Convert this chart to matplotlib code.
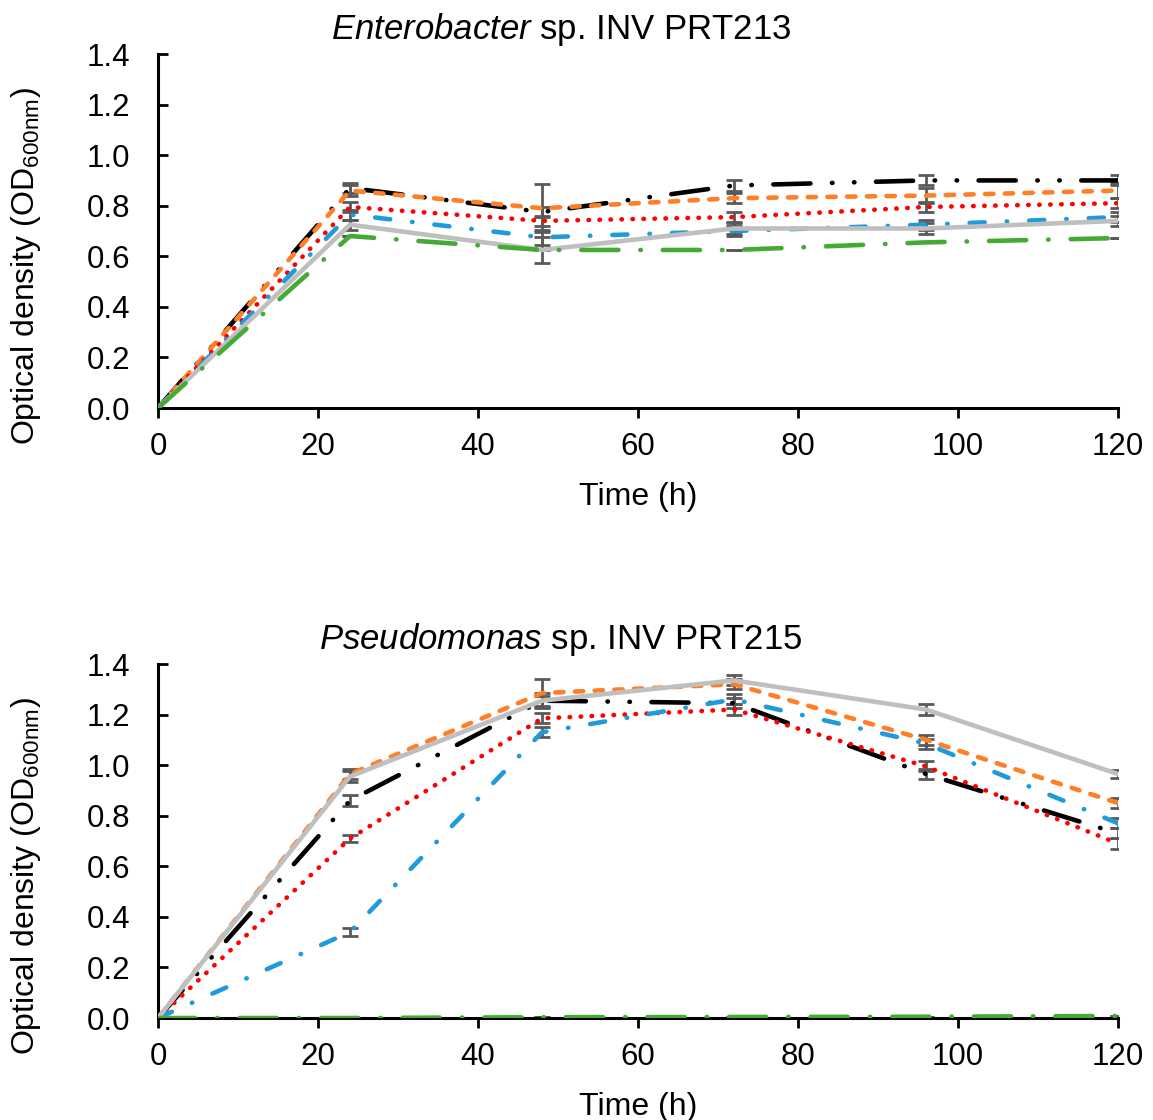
import matplotlib.pyplot as plt
import numpy as np

plt.rcParams['font.family'] = ['Liberation Sans', 'DejaVu Sans']
plt.rcParams['mathtext.fontset'] = 'custom'
plt.rcParams['mathtext.rm'] = 'Liberation Sans'
plt.rcParams['mathtext.it'] = 'Liberation Sans:italic'

time_h = [0, 24, 48, 72, 96, 120]

# top panel: Enterobacter sp. INV PRT213
ent_black = [0, 0.87, 0.775, 0.88, 0.90, 0.90]
ent_orange = [0, 0.86, 0.79, 0.83, 0.84, 0.86]
ent_red = [0, 0.795, 0.74, 0.755, 0.795, 0.81]
ent_blue = [0, 0.765, 0.675, 0.70, 0.725, 0.755]
ent_gray = [0, 0.725, 0.625, 0.71, 0.71, 0.74]
ent_green = [0, 0.68, 0.625, 0.625, 0.655, 0.672]
ent_err_black = [0, 0.02, 0.02, 0.02, 0.02, 0.02]
ent_err_orange = [0, 0.02, 0.095, 0.02, 0.03, 0.03]
ent_err_red = [0, 0.02, 0.02, 0.02, 0.02, 0.02]
ent_err_blue = [0, 0.02, 0.03, 0.02, 0.02, 0.02]
ent_err_gray = [0, 0.02, 0.05, 0.02, 0.02, 0.02]
ent_err_green = [0, 0.0, 0.0, 0.0, 0.0, 0.0]

# bottom panel: Pseudomonas sp. INV PRT215
pse_black = [0, 0.86, 1.255, 1.245, 0.965, 0.73]
pse_orange = [0, 0.965, 1.285, 1.32, 1.10, 0.85]
pse_red = [0, 0.71, 1.185, 1.22, 0.995, 0.69]
pse_blue = [0, 0.34, 1.13, 1.26, 1.085, 0.77]
pse_gray = [0, 0.955, 1.255, 1.335, 1.22, 0.965]
pse_green = [0, 0.0, 0.003, 0.004, 0.005, 0.008]
pse_err_black = [0, 0.02, 0.02, 0.02, 0.02, 0.02]
pse_err_orange = [0, 0.02, 0.055, 0.02, 0.02, 0.02]
pse_err_red = [0, 0.015, 0.02, 0.02, 0.02, 0.02]
pse_err_blue = [0, 0.015, 0.02, 0.02, 0.02, 0.02]
pse_err_gray = [0, 0.02, 0.03, 0.02, 0.02, 0.015]
pse_err_green = [0, 0.0, 0.0, 0.0, 0.0, 0.0]

styles = [
    ('black', (0, (8.1, 4.7, 0.1, 4.7, 0.1, 4.7))),   # long dash dot dot
    ('#FF7F27', (0, (1.8, 2.5))),                     # dash
    ('#FF0000', (0, (0.1, 2.3))),                     # dot
    ('#1F9BDB', (0, (3.3, 4.8, 0.1, 4.8))),           # dash dot
    ('#BFBFBF', '-'),                                 # solid
    ('#44AA33', (0, (8.1, 4.8, 0.1, 4.8))),           # long dash dot
]

panels = [
    (r'$\it{Enterobacter}$ sp. INV PRT213',
     [ent_black, ent_orange, ent_red, ent_blue, ent_gray, ent_green],
     [ent_err_black, ent_err_orange, ent_err_red, ent_err_blue, ent_err_gray, ent_err_green]),
    (r'$\it{Pseudomonas}$ sp. INV PRT215',
     [pse_black, pse_orange, pse_red, pse_blue, pse_gray, pse_green],
     [pse_err_black, pse_err_orange, pse_err_red, pse_err_blue, pse_err_gray, pse_err_green]),
]

W, H = 1153, 1120
FS = 22.5
fig = plt.figure(figsize=(W / 100, H / 100), dpi=100)
axes_px = [(158, 54, 1118, 408), (158, 664, 1118, 1018)]

for (title, series, errs), (l, t, r, b) in zip(panels, axes_px):
    ax = fig.add_axes([l / W, 1 - b / H, (r - l) / W, (b - t) / H])
    # error bars first, lines on top
    for ys, es in zip(series, errs):
        ax.errorbar(time_h, ys, yerr=es, fmt='none', ecolor='#595959',
                    elinewidth=2, capsize=6, capthick=2, zorder=2)
    for ys, (c, ls) in zip(series, styles):
        ax.plot(time_h, ys, color=c, linestyle=ls, lw=3.3,
                dash_capstyle='round', solid_capstyle='round', zorder=3)
    ax.set_xlim(0, 120)
    ax.set_ylim(0, 1.4)
    ax.set_xticks(np.arange(0, 121, 20))
    ax.set_yticks(np.arange(0, 1.41, 0.2))
    ax.yaxis.set_major_formatter(plt.FormatStrFormatter('%.1f'))
    ax.spines['top'].set_visible(False)
    ax.spines['right'].set_visible(False)
    for s in ('left', 'bottom'):
        ax.spines[s].set_linewidth(2.2)
    ax.tick_params(axis='x', direction='out', length=7, width=2, labelsize=FS, pad=10)
    ax.tick_params(axis='y', direction='in', length=7, width=2, labelsize=FS, pad=20)
    ax.set_xlabel('Time (h)', fontsize=23)
    ax.xaxis.set_label_coords(0.5, -0.21)
    ax.set_ylabel(r'Optical density (OD$_{\mathrm{600nm}}$)', fontsize=23)
    ax.yaxis.set_label_coords(-0.12, 0.40)
    ax.set_title(title, fontsize=25, x=0.42, pad=11)

fig.savefig('out.png', dpi=100)
